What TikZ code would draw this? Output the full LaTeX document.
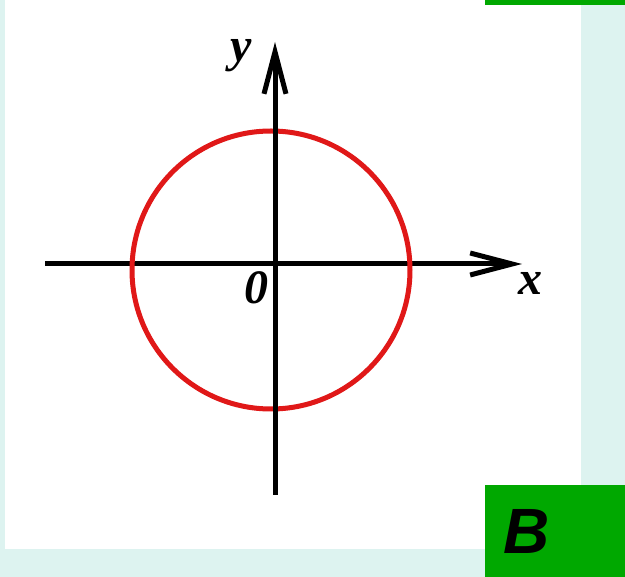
\documentclass[tikz,border=0pt]{standalone}
\usepackage{fontspec}
\setmainfont{Liberation Serif}
\newfontfamily\answerfont{Liberation Sans}
\usetikzlibrary{arrows.meta}
\definecolor{bgcyan}{HTML}{DDF3F0}
\definecolor{circred}{HTML}{E01818}
\definecolor{boxgreen}{HTML}{00A800}

\begin{document}
\begin{tikzpicture}[x=1pt,y=-1pt,
    axis/.style={line width=5pt, -{Straight Barb[length=42pt,width=22pt]}},
    axislabel/.style={font=\fontsize{48}{48}\selectfont\bfseries\itshape, inner sep=0pt}]
    \useasboundingbox (0,0) rectangle (625,577);
    % Background
    \fill[bgcyan] (0,0) rectangle (625,577);
    \fill[white] (5,0) rectangle (581,549);
    \fill[boxgreen] (485,0) rectangle (625,5);
    % Axes end points
    \coordinate (xstart) at (45,264);
    \coordinate (xend) at (522,264);
    \coordinate (ystart) at (275,495);
    \coordinate (yend) at (275,42);
    \draw[axis] (xstart) -- (xend);
    % Circle
    \draw[circred, line width=5pt] (271,270) circle [radius=139];
    \draw[axis] (ystart) -- (yend);
    % Labels
    \node[axislabel] (ylabel) at (241,56) {y};
    \node[axislabel] (xlabel) at (530,283) {x};
    \node[axislabel] (origin) at (256,288) {0};
    % Answer box
    \fill[boxgreen] (485,485) rectangle (625,577);
    \node[font=\answerfont\fontsize{64}{64}\selectfont\bfseries\itshape, inner sep=0pt] (answer) at (527,531) {B};
\end{tikzpicture}
\end{document}
